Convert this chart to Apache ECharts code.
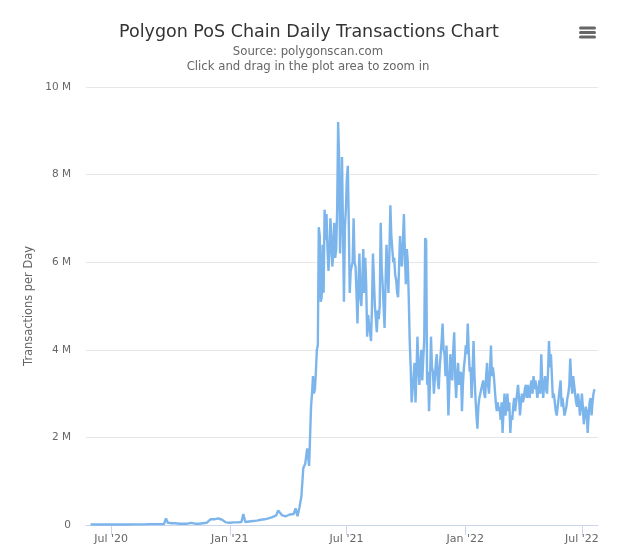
<!DOCTYPE html>
<html>
<head>
<meta charset="utf-8">
<script src="https://cdn.jsdelivr.net/npm/echarts@6/dist/echarts.min.js"></script>
<style>html,body{margin:0;padding:0;background:#fff}</style>
</head>
<body>
<div id="main" style="width:619px;height:557px;"></div>
<script>
// millions of transactions: early part read every 3 days, from mid May 2021 every 1.5 days
var earlyStart = '2020-05-30';
var earlyStep = 3;
var earlyValues = [
	0.01,0.01,0.01,0.01,0.01,0.01,0.01,0.01,0.01,0.01,
	0.01,0.01,0.01,0.01,0.01,0.01,0.01,0.01,0.01,0.01,
	0.01,0.015,0.015,0.015,0.015,0.015,0.015,0.015,0.015,0.015,
	0.02,0.02,0.02,0.02,0.02,0.02,0.02,0.02,0.02,0.15,
	0.05,0.04,0.04,0.03,0.04,0.03,0.03,0.04,0.03,0.03,
	0.03,0.04,0.05,0.04,0.03,0.04,0.03,0.03,0.04,0.05,
	0.05,0.06,0.13,0.14,0.13,0.14,0.15,0.15,0.12,0.08,
	0.06,0.05,0.05,0.05,0.06,0.06,0.06,0.06,0.07,0.25,
	0.07,0.08,0.08,0.09,0.09,0.1,0.1,0.11,0.12,0.15,
	0.13,0.14,0.15,0.17,0.18,0.2,0.22,0.33,0.34,0.22,
	0.18,0.2,0.22,0.24,0.22,0.25,0.38,0.2,0.4,0.65,
	1.3,1.4,1.75,1.35
];
var denseStep = 1.5;
var peakValues = [
	2.7,3.0,3.4,3.0,3.1,3.5,4.0,4.1,6.8,6.6,
	5.1,5.2,6.4,5.3,7.2,6.5,7.1,6.3,5.8,6.2,
	7.0,6.6,5.9,6.2,6.9,6.1,6.3,7.2,9.2,8.4,
	6.2,7.0,8.4,6.8,5.1,6.8,7.2,7.9,8.2,6.9,
	5.3,5.8,5.9,6.0,7.0,6.0,5.9,5.3,4.6,5.5,
	6.2,5.2,5.0,5.6,6.3,5.3,6.1,5.5,4.3,4.8,
	4.6,4.4,4.2,5.0,6.2,5.6,5.0,4.7,4.4,4.9,
	4.7,5.0,6.9,5.9,5.5,5.0,4.5,5.5,6.4,5.8,
	5.3,6.2,7.3,6.6,6.6,6.0,6.1,5.7,5.6,5.3,
	5.2,5.9,6.6,6.0,5.9,6.5,7.1,6.2,5.5,6.3,
	6.0,5.2,4.2,3.6,2.8,3.1,3.4,3.7,2.8,3.5,
	4.3,3.6,3.2,3.7,4.0,3.3,3.8,4.2,6.55,6.5,
	3.2,3.5,2.6,3.3,4.3,3.6,3.5,3.0,3.0,3.7,
	3.9,3.3,3.1,3.6,3.9,4.2,4.6,4.0,3.9,3.4,
	4.1,3.4,2.5,3.2
];
var lateValues = [
	3.9,3.5,3.3,4.0,4.4,3.4,2.9,3.4,3.7,3.2,
	3.3,3.5,2.6,3.2,3.6,3.8,4.1,3.9,4.6,4.0,
	3.5,3.6,2.9,3.5,4.2,3.4,2.9,2.5,2.2,2.7,
	2.9,3.0,3.0,3.2,3.3,3.0,2.9,3.4,3.7,3.2,
	3.0,3.5,4.1,3.4,3.6,3.4,3.1,2.8,2.6,2.8,
	2.6,2.7,2.4,2.8,2.1,2.6,3.0,2.5,2.7,3.0,
	2.6,2.8,2.1,2.5,2.4,2.7,2.9,2.6,2.8,3.0,
	3.2,2.9,2.5,2.8,3.0,2.8,2.9,3.1,3.2,2.9,
	3.2,3.0,2.9,3.2,3.3,3.0,3.4,3.1,3.3,3.1,
	2.9,3.1,3.3,3.0,3.9,3.3,2.9,3.2,3.4,3.1,
	3.0,3.5,4.2,3.6,3.9,3.4,2.9,3.0,2.8,2.6,
	2.5,2.7,2.9,3.1,3.3,2.7,2.9,2.7,2.5,2.6,
	2.7,2.9,3.0,3.2,3.8,3.3,3.0,3.4,3.2,3.0,
	2.8,2.7,3.0,2.8,2.5,2.7,3.0,2.7,2.3,2.5,
	2.7,2.6,2.1,2.5,2.8,2.9,2.5,2.8,3.0,3.1
];
var tickDates = ['2020-07-01','2021-01-01','2021-07-01','2022-01-01','2022-07-01'];
var tickLabels = ["Jul '20","Jan '21","Jul '21","Jan '22","Jul '22"];

var dayMs = 86400000;
var t0 = Date.parse(earlyStart);
var seriesData = earlyValues.map(function(v, i){
	return [t0 + i * earlyStep * dayMs, v * 1000000];
});
var t1 = t0 + earlyValues.length * earlyStep * dayMs;
peakValues.concat(lateValues).forEach(function(v, i){
	seriesData.push([t1 + i * denseStep * dayMs, v * 1000000]);
});
var tickTimes = tickDates.map(function(d){ return Date.parse(d); });

var myChart = echarts.init(document.getElementById('main'));
var option = {
	animation: false,
	backgroundColor: '#fff',
	title: [
		{text: 'Polygon PoS Chain Daily Transactions Chart', left: 304, top: 18, textAlign: 'center',
			textStyle: {fontFamily: 'DejaVu Sans', fontSize: 17.5, fontWeight: 'normal', color: '#333'}},
		{text: 'Source: polygonscan.com', left: 303, top: 41, textAlign: 'center',
			textStyle: {fontFamily: 'DejaVu Sans', fontSize: 11.7, fontWeight: 'normal', color: '#666'}},
		{text: 'Click and drag in the plot area to zoom in', left: 303, top: 56, textAlign: 'center',
			textStyle: {fontFamily: 'DejaVu Sans', fontSize: 11.7, fontWeight: 'normal', color: '#666'}}
	],
	grid: {left: 86, right: 21, top: 87, bottom: 32},
	xAxis: {
		type: 'value',
		min: Date.parse('2020-05-23'),
		max: Date.parse('2022-07-26'),
		splitLine: {show: false},
		axisLine: {lineStyle: {color: '#ccd6eb', width: 1}},
		axisTick: {length: 10, lineStyle: {color: '#ccd6eb'}, customValues: tickTimes},
		axisLabel: {
			customValues: tickTimes,
			color: '#666',
			fontFamily: 'DejaVu Sans',
			fontSize: 11,
			margin: 9,
			formatter: function(v){ return tickLabels[tickTimes.indexOf(v)]; }
		}
	},
	yAxis: {
		type: 'value',
		min: 0,
		max: 10000000,
		interval: 2000000,
		name: 'Transactions per Day',
		nameLocation: 'middle',
		nameGap: 50,
		nameTextStyle: {color: '#666', fontFamily: 'DejaVu Sans', fontSize: 11.4},
		axisLine: {show: false},
		axisTick: {show: false},
		splitLine: {lineStyle: {color: '#e6e6e6', width: 1}},
		axisLabel: {
			color: '#666',
			fontFamily: 'DejaVu Sans',
			fontSize: 10.5,
			margin: 15,
			formatter: function(v){ return v === 0 ? '0' : (v / 1000000) + ' M'; }
		}
	},
	graphic: [
		{type: 'rect', left: 579, top: 26.5, shape: {width: 17, height: 3, r: 1.5}, style: {fill: '#666'}},
		{type: 'rect', left: 579, top: 31, shape: {width: 17, height: 3, r: 1.5}, style: {fill: '#666'}},
		{type: 'rect', left: 579, top: 35.5, shape: {width: 17, height: 3, r: 1.5}, style: {fill: '#666'}}
	],
	series: [{
		type: 'line',
		data: seriesData,
		showSymbol: false,
		lineStyle: {color: '#7cb5ec', width: 2.4},
		itemStyle: {color: '#7cb5ec'}
	}]
};
myChart.setOption(option);
</script>
</body>
</html>
